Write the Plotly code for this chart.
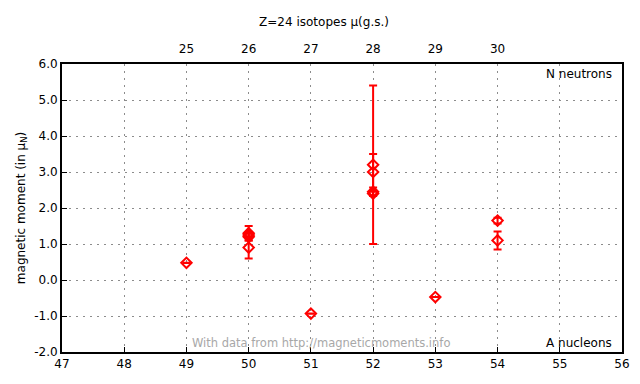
import plotly.graph_objects as go

# Data: mass number A, magnetic moment, uncertainty
A_vals = [49, 50, 50, 50, 50, 51, 52, 52, 52, 52, 53, 54, 54]
mu_vals = [0.476, 1.30, 1.20, 1.25, 0.90, -0.934, 3.20, 3.00, 2.45, 2.40, -0.4745, 1.65, 1.10]
mu_err = [0.003, 0.20, 0.10, 0.05, 0.30, 0.005, 2.20, 0.50, 0.12, 0.05, 0.0, 0.08, 0.25]

x_ticks = list(range(47, 57))
y_ticks = [-2, -1, 0, 1, 2, 3, 4, 5, 6]
n_ticks = [25, 26, 27, 28, 29, 30]
Z = 24

font_family = "DejaVu Sans, Verdana, sans-serif"
grid_dash = "2px,5px"

fig = go.Figure()
fig.add_trace(go.Scatter(
    x=A_vals, y=mu_vals,
    mode="markers",
    marker=dict(symbol="diamond-open", size=8, color="#ff0000", line=dict(width=2, color="#ff0000")),
    error_y=dict(type="data", array=mu_err, visible=True, color="#ff0000", thickness=2, width=4),
    showlegend=False,
))
# invisible trace to activate top axis
fig.add_trace(go.Scatter(x=[n + Z for n in n_ticks], y=[None]*len(n_ticks), xaxis="x2",
                         mode="markers", showlegend=False, hoverinfo="skip"))

fig.update_layout(
    width=632, height=376,
    margin=dict(l=54, r=18, t=56, b=32),
    paper_bgcolor="white", plot_bgcolor="white",
    font=dict(family=font_family, size=11, color="#000000"),
    title=dict(text="Z=24 isotopes μ(g.s.)", x=0.5, xanchor="center", y=0.963, yanchor="middle",
               font=dict(size=12)),
    xaxis=dict(range=[47, 56], tickvals=x_ticks, ticktext=[str(v) for v in x_ticks],
               showgrid=True, gridcolor="#8c8c8c", griddash=grid_dash, gridwidth=1,
               showline=True, linecolor="black", linewidth=2, mirror=True,
               ticks="inside", ticklen=5, tickcolor="black", zeroline=False,
               automargin=False, tickfont=dict(size=12)),
    xaxis2=dict(range=[47, 56], overlaying="x", side="top",
                tickvals=[n + Z for n in n_ticks], ticktext=[str(n) for n in n_ticks],
                showgrid=False, ticks="outside", ticklen=5, tickcolor="rgba(0,0,0,0)",
                showline=False, zeroline=False, automargin=False, tickfont=dict(size=12)),
    yaxis=dict(range=[-2, 6], tickvals=y_ticks, ticktext=[f"{v:.1f}" for v in y_ticks],
               showgrid=True, gridcolor="#8c8c8c", griddash=grid_dash, gridwidth=1,
               showline=True, linecolor="black", linewidth=2, mirror=True,
               ticks="inside", ticklen=5, tickcolor="black", zeroline=False,
               automargin=False, tickfont=dict(size=12),
               title=dict(text="magnetic moment (in μ<sub>N</sub>)", standoff=6, font=dict(size=12))),
    annotations=[
        dict(text="N neutrons", xref="paper", yref="paper", x=0.985, y=0.995, xanchor="right",
             yanchor="top", showarrow=False, font=dict(size=12)),
        dict(text="A nucleons", xref="paper", yref="paper", x=0.985, y=0.0, xanchor="right",
             yanchor="bottom", showarrow=False, font=dict(size=12)),
        dict(text="With data from http://magneticmoments.info", xref="paper", yref="paper",
             x=0.463, y=0.0, xanchor="center", yanchor="bottom", showarrow=False,
             font=dict(size=11.5, color="#a8a8a8")),
    ],
)

fig.write_html("out.html")
